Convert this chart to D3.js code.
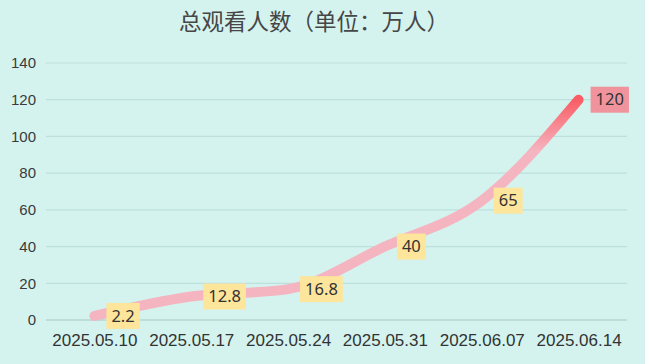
<!DOCTYPE html>
<html>
<head>
<meta charset="utf-8">
<script src="https://cdn.jsdelivr.net/npm/d3@7"></script>
<style>
  html, body { margin: 0; padding: 0; background: #d4f3ef; }
  svg { display: block; font-family: "Noto Sans", "Noto Sans CJK SC", sans-serif; }
</style>
</head>
<body>
<svg id="chart" width="645" height="364"></svg>
<script>
// chart data
const dates = ["2025.05.10", "2025.05.17", "2025.05.24", "2025.05.31", "2025.06.07", "2025.06.14"];
const viewers = [2.2, 12.8, 16.8, 40, 65, 120];
const yTicks = [0, 20, 40, 60, 80, 100, 120, 140];

const width = 645, height = 364;
const margin = { top: 63, right: 18, bottom: 44, left: 46 };

const svg = d3.select("#chart");

svg.append("rect")
  .attr("width", width)
  .attr("height", height)
  .attr("fill", "#d4f3ef");

// title
svg.append("text")
  .attr("x", 314)
  .attr("y", 30)
  .attr("text-anchor", "middle")
  .attr("font-family", "'Noto Sans CJK SC', sans-serif")
  .attr("font-size", 22.5)
  .attr("fill", "#464646")
  .text("总观看人数（单位：万人）");

const x = d3.scalePoint()
  .domain(dates)
  .range([margin.left, width - margin.right])
  .padding(0.5);

const y = d3.scaleLinear()
  .domain([0, 140])
  .range([height - margin.bottom, margin.top]);

// grid lines
svg.append("g")
  .selectAll("line")
  .data(yTicks)
  .join("line")
  .attr("x1", margin.left)
  .attr("x2", width - margin.right)
  .attr("y1", d => y(d))
  .attr("y2", d => y(d))
  .attr("stroke", d => d === 0 ? "#b5d6d1" : "#bde0dc")
  .attr("stroke-width", d => d === 0 ? 1.5 : 1.2);

// y axis labels
const yAxis = svg.append("g")
  .attr("transform", `translate(${margin.left - 10},0)`)
  .call(d3.axisLeft(y).tickValues(yTicks).tickSize(0).tickPadding(0));
yAxis.select(".domain").remove();
yAxis.selectAll("text")
  .attr("font-size", 15)
  .attr("fill", "#3a3a3a");

// x axis labels
const xAxis = svg.append("g")
  .attr("transform", `translate(0,${height - margin.bottom + 10})`)
  .call(d3.axisBottom(x).tickSize(0).tickPadding(4));
xAxis.select(".domain").remove();
xAxis.selectAll("text")
  .attr("font-size", 17)
  .attr("fill", "#333");

// vertical gradient for line
const defs = svg.append("defs");
const grad = defs.append("linearGradient")
  .attr("id", "lineGrad")
  .attr("gradientUnits", "userSpaceOnUse")
  .attr("x1", 0).attr("x2", 0)
  .attr("y1", y(120)).attr("y2", y(92));
grad.append("stop").attr("offset", 0).attr("stop-color", "#fa5d65");
grad.append("stop").attr("offset", 1).attr("stop-color", "#f5b5c0");

const line = d3.line()
  .x((d, i) => x(dates[i]))
  .y(d => y(d))
  .curve(d3.curveMonotoneX);

svg.append("path")
  .datum(viewers)
  .attr("d", line)
  .attr("fill", "none")
  .attr("stroke", "url(#lineGrad)")
  .attr("stroke-width", 10)
  .attr("stroke-linecap", "round")
  .attr("stroke-linejoin", "round");

// value labels
const labels = svg.append("g")
  .selectAll("g")
  .data(viewers)
  .join("g")
  .attr("transform", (d, i) => `translate(${x(dates[i]) + 12},${y(d)})`);

labels.append("text")
  .attr("x", 5)
  .attr("dy", "0.35em")
  .attr("font-size", 16.5)
  .attr("fill", "#333")
  .text(d => d);

labels.each(function(d, i) {
  const g = d3.select(this);
  const w = g.select("text").node().getBBox().width;
  g.insert("rect", "text")
    .attr("x", 0)
    .attr("y", -13)
    .attr("width", w + 10)
    .attr("height", 26)
    .attr("fill", i === viewers.length - 1 ? "#f0939d" : "#fde59c");
});
</script>
</body>
</html>
